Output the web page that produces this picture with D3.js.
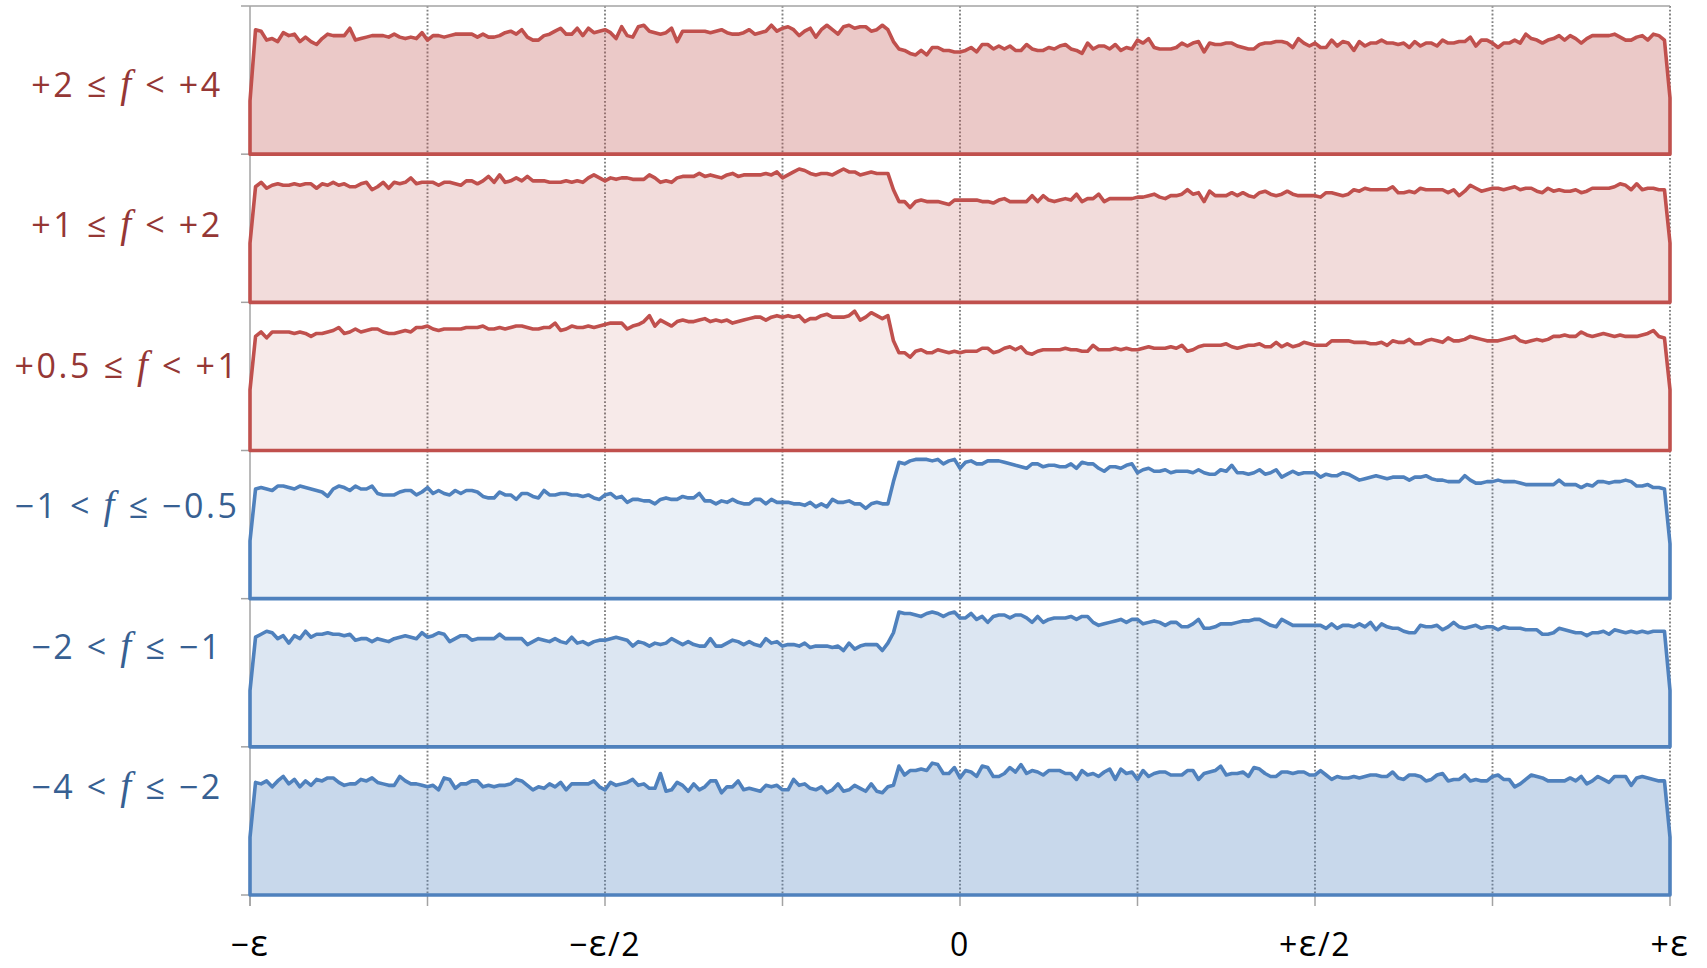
<!DOCTYPE html>
<html>
<head>
<meta charset="utf-8">
<script src="https://cdn.jsdelivr.net/npm/d3@7"></script>
<style>
	body { margin: 0; background: #fff; }
	svg { display: block; }
</style>
</head>
<body>
<div id="chart"></div>
<script>
// six histograms over the interval [-eps, +eps], 256 bins plus the two half-filled edge points
// heights in percent of the panel height
var posHigh = [
	36,84,83,77,78,76,82,80,81,76, 79,76,74,78,81,80,80,80,85,77, 78,79,80,80,80,79,81,79,78,79,
	78,82,77,80,80,79,80,81,81,81, 81,79,81,79,79,80,82,83,81,84, 79,77,77,80,81,83,85,81,81,85,
	80,85,82,83,84,82,78,86,80,79, 86,87,83,82,81,82,85,76,83,83, 83,83,83,82,83,84,82,81,81,82,
	84,81,82,83,87,83,85,86,84,80, 83,85,79,84,87,84,81,86,87,85, 86,86,83,84,87,84,76,71,70,68,
	67,70,67,72,72,70,70,69,69, 70,72,69,74,74,71,73,71,73,70,70,
	74,71,70,70,72,71,73,74,71,70, 68,75,71,73,73,71,74,70,72,71, 77,75,78,72,71,71,71,72,75,73,
	75,76,69,75,74,74,75,75,73,72, 71,71,74,75,75,76,76,75,72,78, 75,73,75,72,72,77,73,76,75,70,
	76,73,75,75,77,75,75,74,75,72, 76,73,75,75,73,77,75,75,76,76, 79,73,77,77,75,72,75,75,77,75,
	81,78,77,75,77,78,80,77,80,78, 75,78,80,80,80,80,81,79,77,77, 79,80,77,81,80,77,38
];
var posMid = [
	40,78,81,77,79,80,79,79,80,79, 80,80,77,80,79,81,79,80,78,78, 80,81,76,78,81,77,81,80,81,84,
	80,81,81,81,79,81,81,80,79,82, 82,80,82,85,81,86,81,82,84,82, 85,82,82,82,81,81,81,82,81,82,
	81,84,86,84,82,84,83,84,84,83, 83,83,86,84,81,82,81,84,85,85, 85,87,85,86,85,84,86,87,85,86,
	86,86,86,87,86,88,84,86,88,90, 89,87,86,87,87,86,88,90,88,88, 86,87,88,87,87,87,76,68,68,64,
	68,69,68,68,68,67,66,69,69, 69,69,69,68,68,67,69,70,68,68,68,
	68,72,68,72,69,68,69,70,69,73, 68,70,70,73,68,70,70,70,70,70, 71,71,72,73,71,70,72,72,73,76,
	73,74,68,75,72,72,72,74,72,74, 72,71,74,75,73,72,73,75,73,72, 72,72,72,71,74,74,73,72,73,76,
	75,77,76,76,76,76,78,74,74,75, 74,77,76,76,76,76,74,76,72,75, 79,77,75,76,77,77,76,77,78,76,
	77,77,75,74,77,75,76,75,75,76, 74,75,77,77,77,77,78,80,79,76, 80,76,77,77,76,76,40
];
var posLow = [
	41,77,80,76,80,80,80,80,79,80, 79,77,79,79,80,81,83,79,80,82, 80,81,82,82,80,79,79,80,81,80,
	83,83,84,82,81,82,82,82,82,83, 83,83,84,82,82,83,82,83,84,84, 83,82,82,83,83,86,81,82,84,83,
	83,84,83,84,85,86,86,86,82,84, 85,87,91,84,88,86,84,87,88,87, 87,88,89,87,88,87,88,86,87,88,
	89,90,90,88,90,91,90,91,90,91, 87,89,89,91,92,90,90,90,91,94, 88,90,93,91,89,91,74,66,66,63,
	67,68,66,66,68,67,66,67,66, 67,67,67,69,69,66,67,69,70,68,70,
	66,65,67,68,68,68,68,69,68,68, 67,67,71,68,68,68,69,68,69,68, 68,69,70,69,69,69,70,69,71,67,
	68,70,71,71,71,71,72,70,69,70, 71,71,72,70,70,73,70,72,70,71, 73,72,71,71,71,74,74,74,74,73,
	73,73,72,72,73,71,74,73,73,75, 72,72,74,75,74,73,76,74,74,75, 77,76,75,74,74,74,75,76,77,74,
	73,74,75,74,75,77,77,78,77,77, 80,78,77,78,79,78,77,78,77,77, 77,78,79,81,77,76,41
];
var negLow = [
	39,74,75,74,73,76,76,75,74,76, 75,74,73,72,69,74,76,75,73,76, 74,74,76,71,70,70,70,72,73,73,
	70,72,75,71,73,71,70,73,71,73, 73,72,69,68,68,72,70,70,67,71, 71,69,68,73,70,70,71,71,70,70,
	69,70,68,67,70,71,68,69,65,67, 67,66,66,64,67,68,67,67,69,68, 68,71,66,66,64,66,65,67,65,64,
	64,67,67,64,67,65,65,65,64,64, 63,65,62,64,62,67,65,65,66,64, 64,61,64,65,64,64,79,92,91,93,
	94,94,94,93,94,91,93,94,88, 92,93,91,91,93,93,93,92,91,90,89,
	88,91,91,89,90,90,89,89,91,88, 92,91,91,88,86,89,89,88,90,91, 85,87,88,86,86,87,85,86,86,86,
	85,87,85,84,84,87,86,90,85,85, 84,85,87,84,85,87,82,84,86,84, 85,85,85,82,84,83,83,85,84,82,
	80,81,82,83,82,81,82,82,82,80, 82,82,83,81,80,80,79,79,79,83, 80,78,78,79,79,80,79,79,79,78,
	77,77,77,77,77,77,80,77,77,77, 75,77,76,79,79,78,79,79,80,79, 76,76,77,75,75,74,37
];
var negMid = [
	38,74,76,78,77,73,75,70,75,73, 78,74,76,76,77,76,76,75,76,72, 73,73,71,73,72,71,73,74,75,74,
	73,77,74,75,77,76,71,73,75,75, 72,73,73,73,73,76,73,73,73,73, 69,71,73,72,71,73,71,70,74,70,
	71,69,71,72,72,73,74,73,72,68, 71,70,68,70,69,70,73,71,69,71, 69,68,68,73,68,68,70,72,71,69,
	71,69,68,73,70,71,68,69,69,68, 70,67,68,68,68,67,68,65,70,66, 68,69,69,69,65,70,77,91,90,90,
	89,88,90,91,90,88,90,91,87, 87,90,86,88,84,88,89,89,87,89,89,
	87,84,88,84,86,87,87,87,88,86, 88,88,84,82,83,84,85,86,84,86, 86,83,84,85,84,82,84,84,81,81,
	83,86,80,80,81,83,83,83,84,85, 85,86,86,84,82,81,86,84,82,82, 82,82,82,82,80,83,80,82,82,81,
	83,81,84,79,83,81,80,80,78,77, 77,82,81,81,82,79,81,84,81,80, 81,82,80,81,81,79,81,80,80,80,
	79,79,79,76,76,77,80,79,78,77, 77,75,77,77,78,76,79,78,77,78, 77,78,77,78,78,78,38
];
var negHigh = [
	39,76,75,77,73,77,80,75,78,73, 77,74,78,77,79,79,76,74,75,75, 78,77,79,76,75,74,74,80,77,75,
	75,74,73,74,71,79,78,72,75,75, 77,77,73,74,73,74,74,75,78,77, 74,71,73,72,75,73,76,71,75,75,
	75,75,77,73,71,76,74,75,76,78, 74,75,72,72,82,70,71,76,74,70, 75,71,73,77,77,69,73,73,77,71,
	72,71,70,74,73,74,71,71,78,74, 75,72,71,73,69,71,75,70,71,74, 72,70,75,70,69,73,74,87,81,84,
	84,85,84,89,88,82,82,86,79, 84,83,80,87,86,80,80,82,86,83,88,
	82,84,83,81,84,84,84,82,82,78, 84,81,82,80,83,85,78,85,82,83, 78,84,80,82,83,83,81,81,81,84,
	84,78,82,83,84,87,81,82,82,83, 80,86,85,82,80,80,83,83,82,83, 83,81,81,84,81,78,80,79,79,80,
	79,80,81,81,80,80,83,79,78,81, 81,80,77,78,81,82,77,78,78,81, 77,78,77,77,80,81,78,78,73,75,
	78,81,80,79,77,77,77,77,79,77, 80,75,77,80,78,76,80,80,80,74, 79,80,79,78,77,77,39
];

var rowLabels = ["+2 ≤ f < +4", "+1 ≤ f < +2", "+0.5 ≤ f < +1", "−1 < f ≤ −0.5", "−2 < f ≤ −1", "−4 < f ≤ −2"];
var rowValues = [posHigh, posMid, posLow, negLow, negMid, negHigh];
var tickValues = [-1, -0.5, 0, 0.5, 1];
var tickLabels = ["−ε", "−ε/2", "0", "+ε/2", "+ε"];
var gridValues = [-1, -0.75, -0.5, -0.25, 0, 0.25, 0.5, 0.75, 1];

var params = {
	width: 1707,
	height: 968,
	left: 250,
	right: 1670,
	top: 6,
	bottom: 895,
	colour: {
		red: "#c0504d",
		blue: "#4f81bd",
		redText: "#953735",
		blueText: "#376092",
		axis: "#a3a3a3",
		grid: "#808080"
	},
	fillOpacity: [0.31, 0.2, 0.12, 0.12, 0.2, 0.31]
};

var svg = d3.select("#chart")
	.append("svg")
		.attr("width", params.width)
		.attr("height", params.height);

var x = d3.scaleLinear()
	.domain([-1, 1])
	.range([params.left, params.right]);

var band = d3.scaleBand()
	.domain(d3.range(rowValues.length))
	.range([params.top, params.bottom]);

var binCount = posHigh.length - 1;

function panelY(i) {
	return d3.scaleLinear()
		.domain([0, 100])
		.range([band(i) + band.bandwidth(), band(i)]);
}

function isRed(i) {
	return i < 3;
}

function buildGrid(target) {
	target.append("g")
		.attr("class", "grid")
		.selectAll("line")
		.data(gridValues.filter(function (d) { return d > -1; }))
		.enter()
	  .append("line")
		.attr("x1", function (d) { return x(d); })
		.attr("x2", function (d) { return x(d); })
		.attr("y1", params.top)
		.attr("y2", params.bottom)
		.attr("stroke", params.colour.grid)
		.attr("stroke-width", 1.9)
		.attr("stroke-dasharray", "1.8,2");
}

function buildAxis(target) {
	var axis = target.append("g").attr("class", "axis");

	// top rule and left rule
	axis.append("line")
		.attr("x1", params.left - 9)
		.attr("x2", params.right)
		.attr("y1", params.top)
		.attr("y2", params.top)
		.attr("stroke", params.colour.axis)
		.attr("stroke-width", 1.5);

	axis.append("line")
		.attr("x1", params.left)
		.attr("x2", params.left)
		.attr("y1", params.top)
		.attr("y2", params.bottom + 11)
		.attr("stroke", params.colour.axis)
		.attr("stroke-width", 1.5);

	axis.selectAll("line.ytick")
		.data(d3.range(rowValues.length))
		.enter()
	  .append("line")
		.attr("class", "ytick")
		.attr("x1", params.left - 9)
		.attr("x2", params.left)
		.attr("y1", function (d) { return band(d) + band.bandwidth(); })
		.attr("y2", function (d) { return band(d) + band.bandwidth(); })
		.attr("stroke", params.colour.axis)
		.attr("stroke-width", 1.5);

	axis.selectAll("line.xtick")
		.data(gridValues)
		.enter()
	  .append("line")
		.attr("class", "xtick")
		.attr("x1", function (d) { return x(d); })
		.attr("x2", function (d) { return x(d); })
		.attr("y1", params.bottom)
		.attr("y2", params.bottom + 11)
		.attr("stroke", params.colour.axis)
		.attr("stroke-width", 1.5);

	var labels = axis.selectAll("text")
		.data(tickValues)
		.enter()
	  .append("text")
		.attr("x", function (d) { return x(d); })
		.attr("y", 956)
		.attr("text-anchor", "middle")
		.attr("font-family", "'Open Sans', Lato, sans-serif")
		.attr("font-size", 32)
		.attr("letter-spacing", 1.5)
		.attr("fill", "#000");

	labels.each(function (d, i) {
		var parts = tickLabels[i].split("ε");
		var t = d3.select(this);
		parts.forEach(function (p, k) {
			if (k > 0) {
				t.append("tspan").attr("font-size", "1.15em").text("ε");
			}
			if (p.length) t.append("tspan").text(p);
		});
	});
}

function buildPanels(target) {
	rowValues.forEach(function (values, i) {
		var y = panelY(i);
		var colour = isRed(i) ? params.colour.red : params.colour.blue;

		var area = d3.area()
			.x(function (d, j) { return x(-1 + 2 * j / binCount); })
			.y0(y(0))
			.y1(function (d) { return y(d); });

		var g = target.append("g").attr("class", "panel");

		g.append("path")
			.datum(values)
			.attr("d", area)
			.attr("fill", colour)
			.attr("fill-opacity", params.fillOpacity[i])
			.attr("stroke", "none");

		g.append("path")
			.datum(values)
			.attr("d", area)
			.attr("fill", "none")
			.attr("stroke", colour)
			.attr("stroke-width", 3.6)
			.attr("stroke-linejoin", "round");
	});
}

function buildLabels(target) {
	target.append("g")
		.attr("class", "rowLabels")
		.selectAll("text")
		.data(rowLabels)
		.enter()
	  .append("text")
		.attr("x", 127)
		.attr("y", function (d, i) { return 97 + i * 140.4; })
		.attr("text-anchor", "middle")
		.attr("font-family", "'Open Sans', Lato, sans-serif")
		.attr("font-size", 34)
		.attr("letter-spacing", 2.6)
		.attr("fill", function (d, i) {
			return isRed(i) ? params.colour.redText : params.colour.blueText;
		})
		.each(function (d) {
			var parts = d.split("f");
			var t = d3.select(this);
			t.append("tspan").text(parts[0]);
			t.append("tspan")
				.attr("font-family", "'Liberation Serif', serif")
				.attr("font-style", "italic")
				.attr("font-size", "1.15em")
				.text("f");
			t.append("tspan").text(parts[1]);
		});
}

buildGrid(svg);
buildAxis(svg);
buildPanels(svg);
buildLabels(svg);
</script>
</body>
</html>
